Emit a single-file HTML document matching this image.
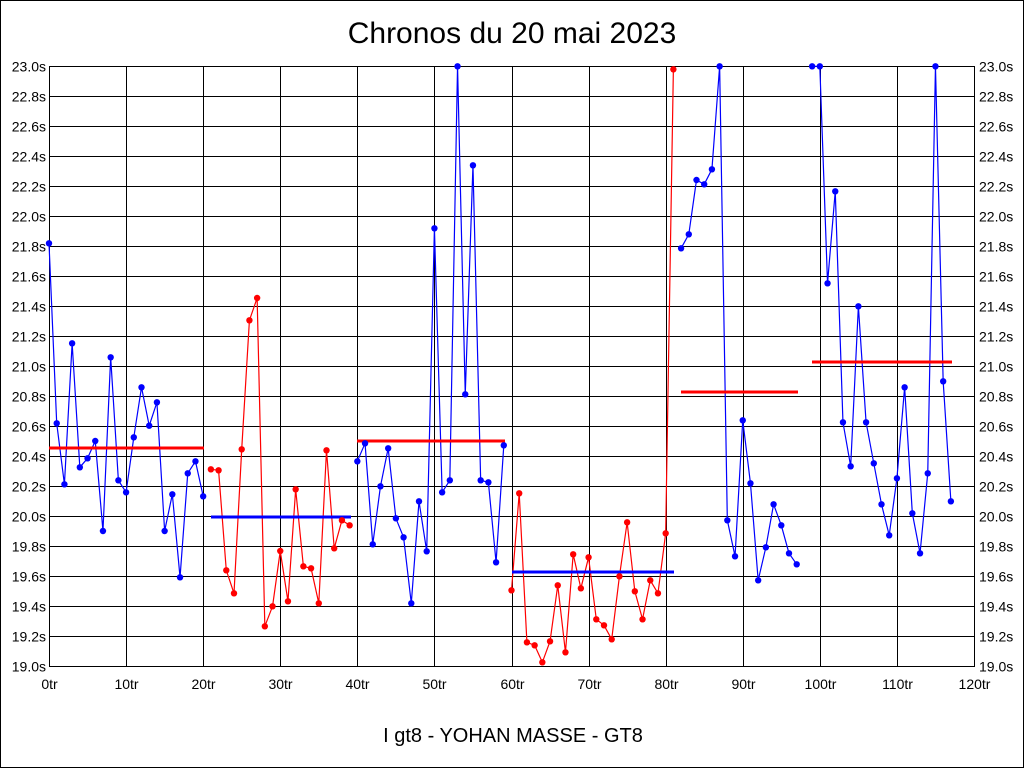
<!DOCTYPE html>
<html><head><meta charset="utf-8"><style>
html,body{margin:0;padding:0;background:#fff;}
svg{display:block;}
text{font-family:"Liberation Sans",Arial,sans-serif;fill:#000;}
</style></head><body>
<svg width="1024" height="768" viewBox="0 0 1024 768" xmlns="http://www.w3.org/2000/svg">
<rect x="0.5" y="0.5" width="1023" height="767" fill="#fff" stroke="#000" stroke-width="1"/>
<text x="512" y="43" font-size="30" text-anchor="middle">Chronos du 20 mai 2023</text>
<text x="513" y="742" font-size="20" text-anchor="middle">I gt8 - YOHAN MASSE - GT8</text>
<g stroke="#000" stroke-width="1" shape-rendering="crispEdges">
<path d="M49.5 66V667M126.5 66V667M203.5 66V667M280.5 66V667M357.5 66V667M434.5 66V667M512.5 66V667M589.5 66V667M666.5 66V667M743.5 66V667M820.5 66V667M897.5 66V667M974.5 66V667"/>
<path d="M49 66.5H975M49 96.5H975M49 126.5H975M49 156.5H975M49 186.5H975M49 216.5H975M49 246.5H975M49 276.5H975M49 306.5H975M49 336.5H975M49 366.5H975M49 396.5H975M49 426.5H975M49 456.5H975M49 486.5H975M49 516.5H975M49 546.5H975M49 576.5H975M49 606.5H975M49 636.5H975M49 666.5H975"/>
</g>
<g font-size="14" text-anchor="end">
<text x="46" y="71.5">23.0s</text><text x="46" y="101.5">22.8s</text><text x="46" y="131.5">22.6s</text><text x="46" y="161.5">22.4s</text><text x="46" y="191.5">22.2s</text><text x="46" y="221.5">22.0s</text><text x="46" y="251.5">21.8s</text><text x="46" y="281.5">21.6s</text><text x="46" y="311.5">21.4s</text><text x="46" y="341.5">21.2s</text><text x="46" y="371.5">21.0s</text><text x="46" y="401.5">20.8s</text><text x="46" y="431.5">20.6s</text><text x="46" y="461.5">20.4s</text><text x="46" y="491.5">20.2s</text><text x="46" y="521.5">20.0s</text><text x="46" y="551.5">19.8s</text><text x="46" y="581.5">19.6s</text><text x="46" y="611.5">19.4s</text><text x="46" y="641.5">19.2s</text><text x="46" y="671.5">19.0s</text>
</g>
<g font-size="14" text-anchor="start">
<text x="979" y="71.5">23.0s</text><text x="979" y="101.5">22.8s</text><text x="979" y="131.5">22.6s</text><text x="979" y="161.5">22.4s</text><text x="979" y="191.5">22.2s</text><text x="979" y="221.5">22.0s</text><text x="979" y="251.5">21.8s</text><text x="979" y="281.5">21.6s</text><text x="979" y="311.5">21.4s</text><text x="979" y="341.5">21.2s</text><text x="979" y="371.5">21.0s</text><text x="979" y="401.5">20.8s</text><text x="979" y="431.5">20.6s</text><text x="979" y="461.5">20.4s</text><text x="979" y="491.5">20.2s</text><text x="979" y="521.5">20.0s</text><text x="979" y="551.5">19.8s</text><text x="979" y="581.5">19.6s</text><text x="979" y="611.5">19.4s</text><text x="979" y="641.5">19.2s</text><text x="979" y="671.5">19.0s</text>
</g>
<g font-size="14" text-anchor="middle">
<text x="49.5" y="689">0tr</text><text x="126.5" y="689">10tr</text><text x="203.5" y="689">20tr</text><text x="280.5" y="689">30tr</text><text x="357.5" y="689">40tr</text><text x="434.5" y="689">50tr</text><text x="512.5" y="689">60tr</text><text x="589.5" y="689">70tr</text><text x="666.5" y="689">80tr</text><text x="743.5" y="689">90tr</text><text x="820.5" y="689">100tr</text><text x="897.5" y="689">110tr</text><text x="974.5" y="689">120tr</text>
</g>
<g fill="none" stroke-width="1.2" stroke-linejoin="round">
<polyline stroke="#0000ff" points="49.0,243.3 56.71,423.3 64.42,484.3 72.13,343.3 79.83,467.3 87.54,458.3 95.25,441 102.96,531 110.67,357.3 118.38,480.3 126.08,492.3 133.79,437.3 141.5,387.3 149.21,425.7 156.92,402.3 164.63,531 172.33,494.3 180.04,577.3 187.75,473.3 195.46,461.3 203.17,496.3"/>
<polyline stroke="#ff0000" points="210.88,469.3 218.58,470.3 226.29,570.3 234.0,593.3 241.71,449.3 249.42,320.3 257.13,298 264.83,626.3 272.54,606.3 280.25,551 287.96,601.3 295.67,489.3 303.38,566.3 311.08,568.3 318.79,603.3 326.5,450.3 334.21,548.3 341.92,520.3 349.63,525.3"/>
<polyline stroke="#0000ff" points="357.33,461.3 365.04,443.3 372.75,544.3 380.46,486.3 388.17,448.3 395.88,518.3 403.58,537.3 411.29,603.3 419.0,501.3 426.71,551.3 434.42,228.3 442.13,492.3 449.83,480.3 457.54,66.3 465.25,394.3 472.96,165.3 480.67,480.3 488.38,482.3 496.08,562.3 503.79,445.3"/>
<polyline stroke="#ff0000" points="511.5,590.3 519.21,493.3 526.92,642.3 534.63,645.3 542.33,662.3 550.04,641.3 557.75,585.3 565.46,652.3 573.17,554.3 580.88,588.3 588.58,557.3 596.29,619.3 604.0,625.3 611.71,639.3 619.42,576.3 627.13,522.3 634.83,591.3 642.54,619.3 650.25,580.3 657.96,593.3 665.67,533.3 673.38,69.3"/>
<polyline stroke="#0000ff" points="681.08,248.3 688.79,234.3 696.5,180 704.21,184.3 711.92,169.3 719.63,66.3 727.33,520.3 735.04,556.3 742.75,420.3 750.46,483.3 758.17,580.3 765.88,547.3 773.58,504.3 781.29,525.3 789.0,553.3 796.71,564.3"/>
<polyline stroke="#0000ff" points="812.13,66.3 819.83,66.3 827.54,283.3 835.25,191.3 842.96,422.3 850.67,466.3 858.38,306.3 866.08,422.3 873.79,463.3 881.5,504.3 889.21,535.3 896.92,478.3 904.63,387.3 912.33,513.3 920.04,553.3 927.75,473.3 935.46,66.3 943.17,381.3 950.88,501.3"/>
</g>
<g stroke-width="3" shape-rendering="crispEdges">
<line x1="49" y1="448" x2="204" y2="448" stroke="#ff0000"/>
<line x1="211" y1="517" x2="351" y2="517" stroke="#0000ff"/>
<line x1="357" y1="441" x2="505" y2="441" stroke="#ff0000"/>
<line x1="512" y1="572" x2="674" y2="572" stroke="#0000ff"/>
<line x1="681" y1="392" x2="798" y2="392" stroke="#ff0000"/>
<line x1="812" y1="362" x2="952" y2="362" stroke="#ff0000"/>
</g>
<g fill="#0000ff">
<circle cx="49.0" cy="243.3" r="3.2"/><circle cx="56.71" cy="423.3" r="3.2"/><circle cx="64.42" cy="484.3" r="3.2"/><circle cx="72.13" cy="343.3" r="3.2"/><circle cx="79.83" cy="467.3" r="3.2"/><circle cx="87.54" cy="458.3" r="3.2"/><circle cx="95.25" cy="441" r="3.2"/><circle cx="102.96" cy="531" r="3.2"/><circle cx="110.67" cy="357.3" r="3.2"/><circle cx="118.38" cy="480.3" r="3.2"/><circle cx="126.08" cy="492.3" r="3.2"/><circle cx="133.79" cy="437.3" r="3.2"/><circle cx="141.5" cy="387.3" r="3.2"/><circle cx="149.21" cy="425.7" r="3.2"/><circle cx="156.92" cy="402.3" r="3.2"/><circle cx="164.63" cy="531" r="3.2"/><circle cx="172.33" cy="494.3" r="3.2"/><circle cx="180.04" cy="577.3" r="3.2"/><circle cx="187.75" cy="473.3" r="3.2"/><circle cx="195.46" cy="461.3" r="3.2"/><circle cx="203.17" cy="496.3" r="3.2"/>
<circle cx="357.33" cy="461.3" r="3.2"/><circle cx="365.04" cy="443.3" r="3.2"/><circle cx="372.75" cy="544.3" r="3.2"/><circle cx="380.46" cy="486.3" r="3.2"/><circle cx="388.17" cy="448.3" r="3.2"/><circle cx="395.88" cy="518.3" r="3.2"/><circle cx="403.58" cy="537.3" r="3.2"/><circle cx="411.29" cy="603.3" r="3.2"/><circle cx="419.0" cy="501.3" r="3.2"/><circle cx="426.71" cy="551.3" r="3.2"/><circle cx="434.42" cy="228.3" r="3.2"/><circle cx="442.13" cy="492.3" r="3.2"/><circle cx="449.83" cy="480.3" r="3.2"/><circle cx="457.54" cy="66.3" r="3.2"/><circle cx="465.25" cy="394.3" r="3.2"/><circle cx="472.96" cy="165.3" r="3.2"/><circle cx="480.67" cy="480.3" r="3.2"/><circle cx="488.38" cy="482.3" r="3.2"/><circle cx="496.08" cy="562.3" r="3.2"/><circle cx="503.79" cy="445.3" r="3.2"/>
<circle cx="681.08" cy="248.3" r="3.2"/><circle cx="688.79" cy="234.3" r="3.2"/><circle cx="696.5" cy="180" r="3.2"/><circle cx="704.21" cy="184.3" r="3.2"/><circle cx="711.92" cy="169.3" r="3.2"/><circle cx="719.63" cy="66.3" r="3.2"/><circle cx="727.33" cy="520.3" r="3.2"/><circle cx="735.04" cy="556.3" r="3.2"/><circle cx="742.75" cy="420.3" r="3.2"/><circle cx="750.46" cy="483.3" r="3.2"/><circle cx="758.17" cy="580.3" r="3.2"/><circle cx="765.88" cy="547.3" r="3.2"/><circle cx="773.58" cy="504.3" r="3.2"/><circle cx="781.29" cy="525.3" r="3.2"/><circle cx="789.0" cy="553.3" r="3.2"/><circle cx="796.71" cy="564.3" r="3.2"/>
<circle cx="812.13" cy="66.3" r="3.2"/><circle cx="819.83" cy="66.3" r="3.2"/><circle cx="827.54" cy="283.3" r="3.2"/><circle cx="835.25" cy="191.3" r="3.2"/><circle cx="842.96" cy="422.3" r="3.2"/><circle cx="850.67" cy="466.3" r="3.2"/><circle cx="858.38" cy="306.3" r="3.2"/><circle cx="866.08" cy="422.3" r="3.2"/><circle cx="873.79" cy="463.3" r="3.2"/><circle cx="881.5" cy="504.3" r="3.2"/><circle cx="889.21" cy="535.3" r="3.2"/><circle cx="896.92" cy="478.3" r="3.2"/><circle cx="904.63" cy="387.3" r="3.2"/><circle cx="912.33" cy="513.3" r="3.2"/><circle cx="920.04" cy="553.3" r="3.2"/><circle cx="927.75" cy="473.3" r="3.2"/><circle cx="935.46" cy="66.3" r="3.2"/><circle cx="943.17" cy="381.3" r="3.2"/><circle cx="950.88" cy="501.3" r="3.2"/>
</g>
<g fill="#ff0000">
<circle cx="210.88" cy="469.3" r="3.2"/><circle cx="218.58" cy="470.3" r="3.2"/><circle cx="226.29" cy="570.3" r="3.2"/><circle cx="234.0" cy="593.3" r="3.2"/><circle cx="241.71" cy="449.3" r="3.2"/><circle cx="249.42" cy="320.3" r="3.2"/><circle cx="257.13" cy="298" r="3.2"/><circle cx="264.83" cy="626.3" r="3.2"/><circle cx="272.54" cy="606.3" r="3.2"/><circle cx="280.25" cy="551" r="3.2"/><circle cx="287.96" cy="601.3" r="3.2"/><circle cx="295.67" cy="489.3" r="3.2"/><circle cx="303.38" cy="566.3" r="3.2"/><circle cx="311.08" cy="568.3" r="3.2"/><circle cx="318.79" cy="603.3" r="3.2"/><circle cx="326.5" cy="450.3" r="3.2"/><circle cx="334.21" cy="548.3" r="3.2"/><circle cx="341.92" cy="520.3" r="3.2"/><circle cx="349.63" cy="525.3" r="3.2"/>
<circle cx="511.5" cy="590.3" r="3.2"/><circle cx="519.21" cy="493.3" r="3.2"/><circle cx="526.92" cy="642.3" r="3.2"/><circle cx="534.63" cy="645.3" r="3.2"/><circle cx="542.33" cy="662.3" r="3.2"/><circle cx="550.04" cy="641.3" r="3.2"/><circle cx="557.75" cy="585.3" r="3.2"/><circle cx="565.46" cy="652.3" r="3.2"/><circle cx="573.17" cy="554.3" r="3.2"/><circle cx="580.88" cy="588.3" r="3.2"/><circle cx="588.58" cy="557.3" r="3.2"/><circle cx="596.29" cy="619.3" r="3.2"/><circle cx="604.0" cy="625.3" r="3.2"/><circle cx="611.71" cy="639.3" r="3.2"/><circle cx="619.42" cy="576.3" r="3.2"/><circle cx="627.13" cy="522.3" r="3.2"/><circle cx="634.83" cy="591.3" r="3.2"/><circle cx="642.54" cy="619.3" r="3.2"/><circle cx="650.25" cy="580.3" r="3.2"/><circle cx="657.96" cy="593.3" r="3.2"/><circle cx="665.67" cy="533.3" r="3.2"/><circle cx="673.38" cy="69.3" r="3.2"/>
</g>
</svg>
</body></html>
